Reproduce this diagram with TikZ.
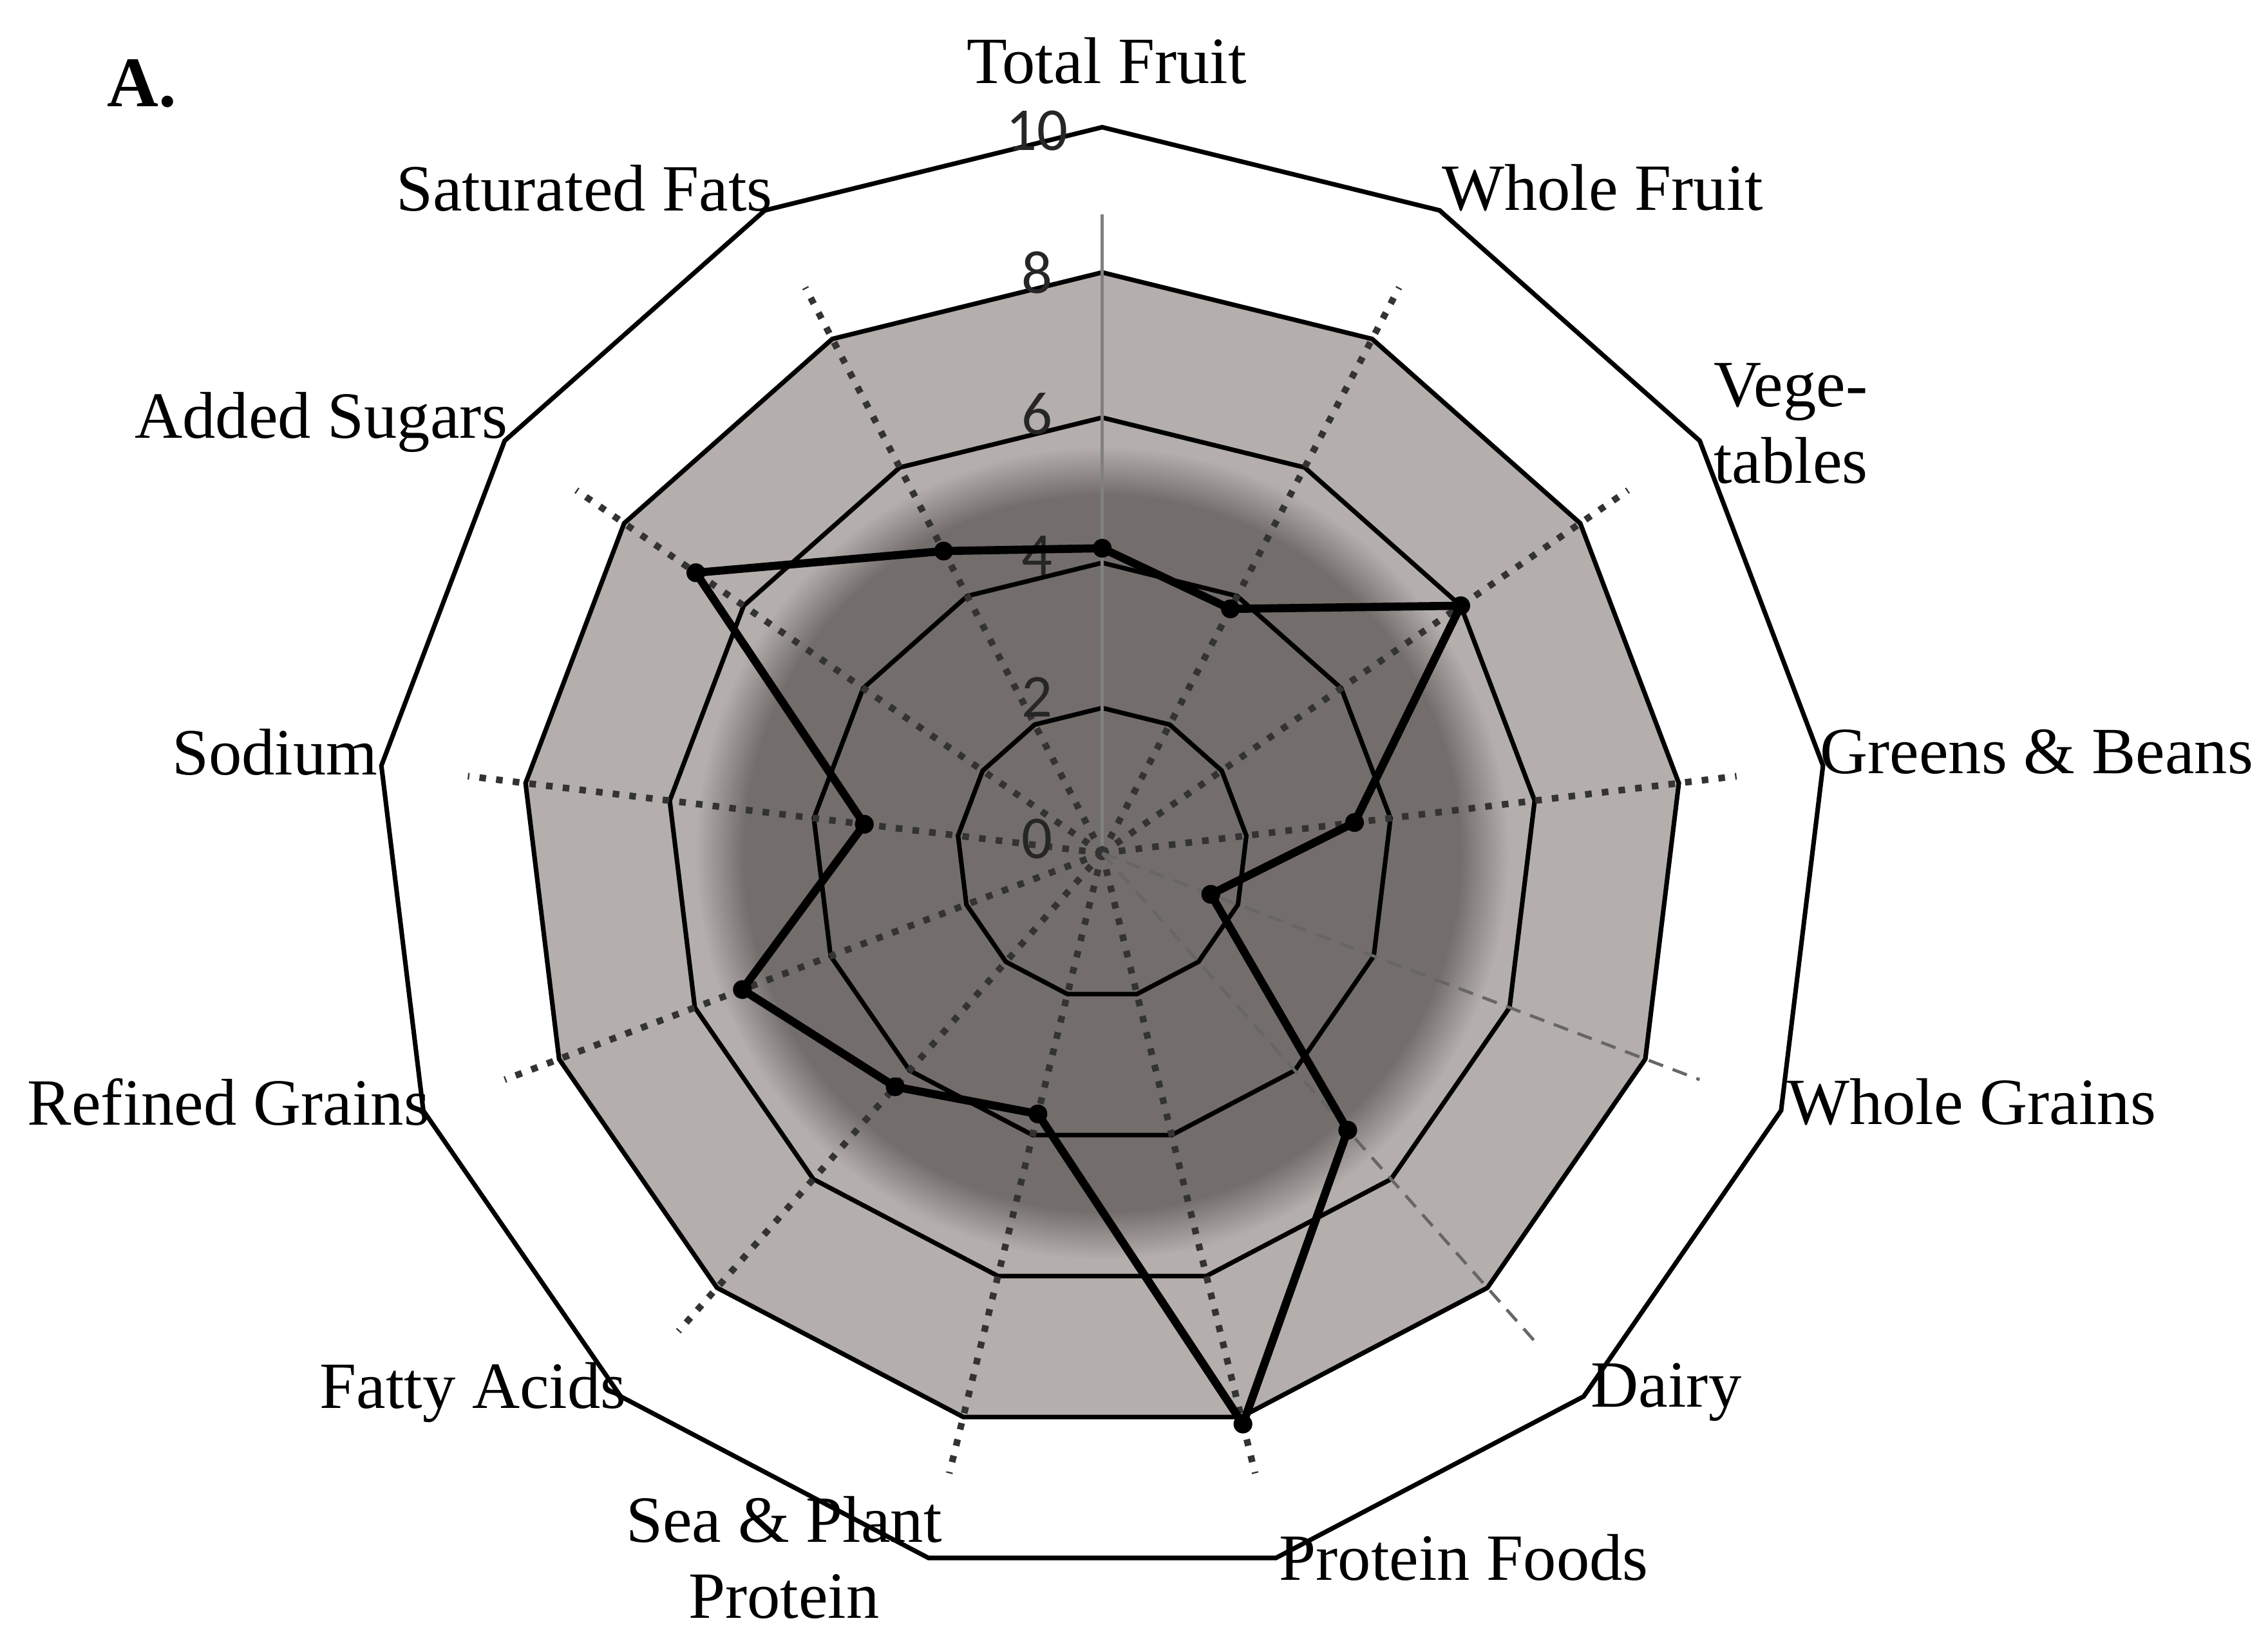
\documentclass[tikz,border=0pt]{standalone}
\usepackage{fontspec}
\setmainfont{Liberation Serif}
\newfontfamily\tickfont{Carlito}
\definecolor{lightg}{RGB}{180,174,172}
\definecolor{darkg}{RGB}{115,110,108}
\pgfdeclareradialshading{darkfuzz}{\pgfpoint{0bp}{0bp}}{%
 rgb(0bp)=(0.451,0.431,0.424); rgb(22bp)=(0.451,0.431,0.424);
 rgb(25bp)=(0.706,0.682,0.675); rgb(50bp)=(0.706,0.682,0.675)}
\tikzset{
 ring/.style={draw=black, line width=0.9pt},
 axisdot/.style={line width=1.3pt, dotted, black!80},
 axisgray/.style={line width=0.6pt, gray},
 axisfine/.style={line width=0.6pt, densely dashed, black!60},
 dataline/.style={line width=1.6pt, black, line join=round},
 dot/.style={circle, fill=black, inner sep=0pt, minimum size=0.13cm},
 lab/.style={font=\fontsize{13}{15}\selectfont, align=center},
 tick/.style={font=\tickfont\fontsize{12}{12}\selectfont, text=black!85}
}
\begin{document}
\begin{tikzpicture}
\useasboundingbox (0,0) rectangle (15.68,11.41);
\node[font=\bfseries\fontsize{14}{14}\selectfont] (A) at (0.98,10.83) {A.};
\begin{scope}[shift={(7.62cm,5.51cm)}, x=0.502cm, y=0.502cm]
 % light band polygon
 \fill[lightg] (90:8) \foreach \k in {1,...,12}{ -- ({90-\k*360/13}:8)} -- cycle;
 \shade[shading=darkfuzz] (0,0) circle (5.6);
 % rings
 \foreach \r in {2,4,6,8,10}{
  \draw[ring] (90:\r) \foreach \k in {1,...,12}{ -- ({90-\k*360/13}:\r)} -- cycle;
 }
 % axes
 \draw[axisgray] (0,0) -- (90:8.8);
 \foreach \k in {1,2,3,6,7,8,9,10,11,12}{
  \draw[axisdot] (0,0) -- ({90-\k*360/13}:8.8);
 }
 \draw[axisfine] (0,0) -- ({90-4*360/13}:8.8);
 \draw[axisfine] (0,0) -- ({90-5*360/13}:9.0);
 % ticks
 \foreach \v in {0,2,4,6,8,10}{
  \node[tick] (t\v) at (-0.9,{\v*0.975+0.2}) {\v};
 }
 % data
 \foreach \v [count=\i from 0] in {4.2,3.8,6.0,3.5,1.6,5.1,8.1,3.7,4.3,5.3,3.3,6.8,4.7}{
  \node[dot] (p\i) at ({90-\i*360/13}:\v) {};
 }
 \draw[dataline] (p0.center) -- (p1.center) -- (p2.center) -- (p3.center) -- (p4.center) -- (p5.center) -- (p6.center) -- (p7.center) -- (p8.center) -- (p9.center) -- (p10.center) -- (p11.center) -- (p12.center) -- cycle;
\end{scope}
% labels
\node[lab] (l0) at (7.65,10.99) {Total Fruit};
\node[lab] (l1) at (11.08,10.11) {Whole Fruit};
\node[lab, align=right] (l2) at (12.38,8.48) {Vege-\\tables};
\node[lab] (l3) at (14.08,6.21) {Greens \& Beans};
\node[lab] (l4) at (13.63,3.79) {Whole Grains};
\node[lab] (l5) at (11.52,1.78) {Dairy};
\node[lab] (l6) at (10.12,0.64) {Protein Foods};
\node[lab] (l7) at (5.42,0.64) {Sea \& Plant\\Protein};
\node[lab] (l8) at (3.27,1.78) {Fatty Acids};
\node[lab] (l9) at (1.58,3.79) {Refined Grains};
\node[lab] (l10) at (1.90,6.21) {Sodium};
\node[lab] (l11) at (2.22,8.49) {Added Sugars};
\node[lab] (l12) at (4.04,10.11) {Saturated Fats};
\end{tikzpicture}
\end{document}
